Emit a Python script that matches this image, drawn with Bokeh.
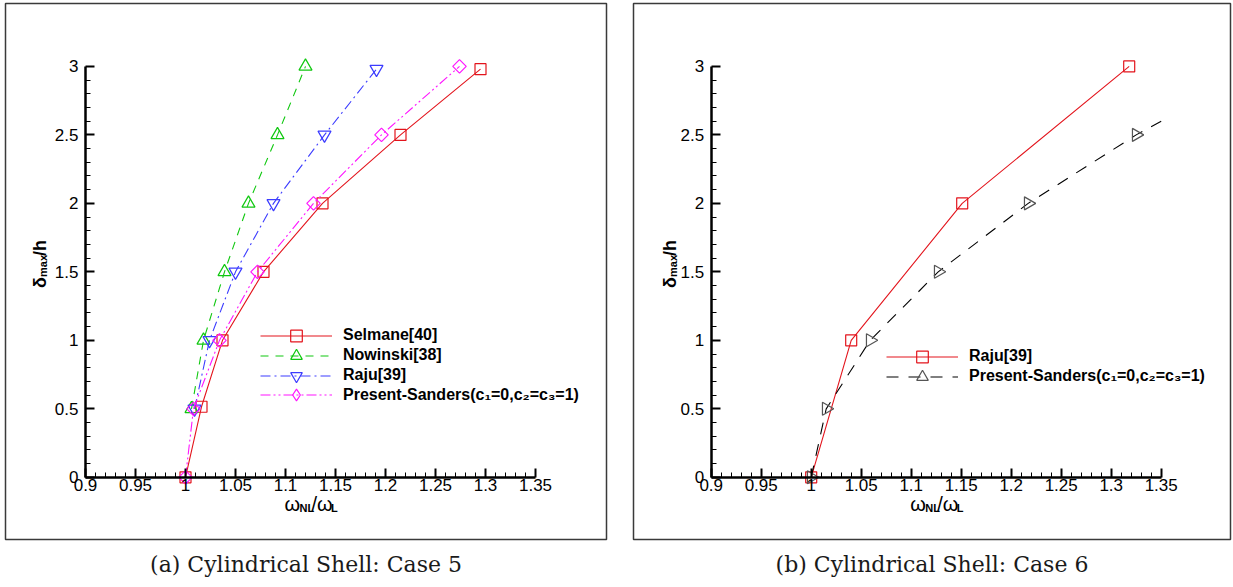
import numpy as np
from bokeh.plotting import figure
from bokeh.models import Range1d, FixedTicker, Label, Legend, LegendItem, Title
from bokeh.layouts import row
from bokeh.embed import file_html
from bokeh.resources import INLINE

# ---------------- data ----------------
x_tick_labels = ["0.9", "0.95", "1", "1.05", "1.1", "1.15", "1.2", "1.25", "1.3", "1.35"]
y_tick_labels = ["0", "0.5", "1", "1.5", "2", "2.5", "3"]

# (a) Cylindrical Shell: Case 5
selmane_x = [1.0, 1.016, 1.037, 1.078, 1.137, 1.215, 1.295]
selmane_y = [0.0, 0.515, 1.0, 1.5, 2.0, 2.5, 2.98]
nowinski_x = [1.006, 1.018, 1.039, 1.063, 1.092, 1.12]
nowinski_y = [0.5, 1.0, 1.5, 2.0, 2.5, 3.0]
raju5_x = [1.009, 1.024, 1.05, 1.088, 1.139, 1.191]
raju5_y = [0.5, 1.0, 1.5, 2.0, 2.5, 2.98]
sanders5_x = [1.0, 1.008, 1.034, 1.072, 1.128, 1.196, 1.274]
sanders5_y = [0.0, 0.5, 1.0, 1.5, 2.0, 2.5, 3.0]

# (b) Cylindrical Shell: Case 6
raju6_x = [1.0, 1.04, 1.151, 1.318]
raju6_y = [0.0, 1.0, 2.0, 3.0]
sanders6_x = [1.0, 1.015, 1.059, 1.127, 1.217, 1.325]
sanders6_y = [0.0, 0.5, 1.0, 1.5, 2.0, 2.5]
sanders6_edge_x = [1.35]   # where the dashed curve leaves the axis box
sanders6_edge_y = [2.6]

legend_a = ["Selmane[40]", "Nowinski[38]", "Raju[39]", "Present-Sanders(c₁=0,c₂=c₃=1)"]
legend_b = ["Raju[39]", "Present-Sanders(c₁=0,c₂=c₃=1)"]

# ---------------- styling / layout constants ----------------
X_PX_PER_UNIT = 1000.0
Y_PX_PER_UNIT = 137.23
Y0_PX = 477.7          # canvas y of delta = 0
FRAME_TOP, FRAME_BOTTOM = 3, 540
FONT = "Liberation Sans"

RED = "#e3141c"
GREEN = "#10c810"
BLUE = "#3c3cff"
MAGENTA = "#ff14ff"
GRAY = "#555555"

x_ticks = [float(s) for s in x_tick_labels]
y_ticks = [float(s) for s in y_tick_labels]
x_minor = [v for v in np.round(np.arange(0.9, 1.3501, 0.01), 3) if v not in x_ticks]
y_minor = [v for v in np.round(np.arange(0.0, 3.0001, 0.1), 2) if v not in y_ticks]


def build(width, canvas_left, frame_left, frame_right, axis_x_px, caption, ylab_x_px):
    border_left = frame_left - canvas_left
    border_right = canvas_left + width - frame_right
    x_start = 0.9 - (axis_x_px - frame_left) / X_PX_PER_UNIT
    x_end = 0.9 + (frame_right - axis_x_px) / X_PX_PER_UNIT
    y_end = (Y0_PX - FRAME_TOP) / Y_PX_PER_UNIT
    y_start = -(FRAME_BOTTOM - Y0_PX) / Y_PX_PER_UNIT

    p = figure(width=width, height=587, output_backend="svg", toolbar_location=None,
               x_range=Range1d(x_start, x_end), y_range=Range1d(y_start, y_end),
               min_border_left=border_left, min_border_right=border_right,
               min_border_top=FRAME_TOP, min_border_bottom=587 - FRAME_BOTTOM,
               background_fill_color="white", border_fill_color="white")
    p.grid.visible = False
    p.outline_line_color = "#3a3a3a"
    p.outline_line_width = 1.5

    xa = p.xaxis[0]
    xa.fixed_location = 0
    xa.bounds = (0.9, 1.35)
    xa.ticker = FixedTicker(ticks=x_ticks, minor_ticks=x_minor)
    xa.major_label_overrides = {t: s for t, s in zip(x_ticks, x_tick_labels)}
    ya = p.yaxis[0]
    ya.fixed_location = 0.9
    ya.bounds = (0, 3)
    ya.ticker = FixedTicker(ticks=y_ticks, minor_ticks=y_minor)
    ya.major_label_overrides = {t: s for t, s in zip(y_ticks, y_tick_labels)}
    for ax in (xa, ya):
        ax.axis_line_width = 2.5
        ax.axis_line_color = "black"
        ax.major_tick_in = 9
        ax.major_tick_out = 0
        ax.minor_tick_in = 5
        ax.minor_tick_out = 0
        ax.major_tick_line_width = 2
        ax.minor_tick_line_width = 1
        ax.major_tick_line_color = "black"
        ax.minor_tick_line_color = "black"
        ax.major_label_text_font = FONT
        ax.major_label_text_font_size = "17px"
        ax.major_label_text_color = "black"
    xa.major_label_standoff = 2
    ya.major_label_standoff = 7

    def dx(px):
        return 0.9 + (px - axis_x_px) / X_PX_PER_UNIT

    def dy(py):
        return (Y0_PX - py) / Y_PX_PER_UNIT

    # x-axis label  omega_NL / omega_L
    xl = axis_x_px - 85 + 284
    for txt, off, base, size, style in [("ω", 0, 504, "20px", "normal"),
                                        ("NL", 15, 508.5, "11px", "bold"),
                                        ("/ω", 27, 504, "20px", "normal"),
                                        ("L", 46.5, 508.5, "11px", "bold")]:
        p.add_layout(Label(x=dx(xl + off), y=dy(base), text=txt, text_font=FONT,
                           text_font_size=size, text_font_style=style, text_color="black",
                           text_align="left", text_baseline="alphabetic"))
    # y-axis label  delta_max / h  (rotated)
    for txt, yoff, xoff, size in [("δ", 288, 0, "18px"),
                                  ("max", 277, 3.5, "11px"),
                                  ("/h", 256, 0, "18px")]:
        p.add_layout(Label(x=dx(ylab_x_px + xoff), y=dy(yoff), text=txt, angle=np.pi / 2,
                           text_font=FONT, text_font_size=size, text_font_style="bold",
                           text_color="black", text_align="left", text_baseline="alphabetic"))

    p.add_layout(Title(text=caption, align="center", text_font="DejaVu Serif",
                       text_font_size="22px", text_font_style="normal",
                       text_color="#1a1a1a", standoff=21), "below")
    return p


def series(p, xs, ys, color, dash, marker, size, angle=0.0, line_color=None,
           lx=None, ly=None, legend_marker=None):
    lr = p.line(lx if lx is not None else xs, ly if ly is not None else ys,
                line_color=line_color or color, line_width=1.1, line_dash=dash)
    sr = p.scatter(xs, ys, marker=marker, size=size, angle=angle,
                   line_color=color, fill_color=None, line_width=1.2)
    if legend_marker is None:
        return [lr, sr]
    # legend-only swatch (a single undefined point, never drawn on the plot)
    dr = p.scatter(np.array([np.nan]), np.array([np.nan]), marker=legend_marker, size=size,
                   line_color=color, fill_color=None, line_width=1.2)
    return [lr, dr]


def add_legend_row(p, label, renderers, loc):
    leg = Legend(items=[LegendItem(label=label, renderers=renderers)], location=loc,
                 glyph_width=72, glyph_height=29, label_height=20, spacing=0,
                 padding=0, margin=0, border_line_color=None, background_fill_alpha=0,
                 label_text_font=FONT, label_text_font_size="16px",
                 label_text_font_style="bold", label_text_color="black",
                 label_standoff=11)
    p.add_layout(leg)


def row_loc(x_px, center_y):
    # single-row legend: bottom edge measured up from the frame bottom
    return (x_px, FRAME_BOTTOM - center_y - 14.5)


# ---------------- panel (a) ----------------
pa = build(616, 0, 5, 606, 85.0, "(a) Cylindrical Shell: Case 5", 39.0)
r1 = series(pa, selmane_x, selmane_y, RED, "solid", "square", 11)
r2 = series(pa, nowinski_x, nowinski_y, GREEN, "8 7", "triangle", 13)
r3 = series(pa, raju5_x, raju5_y, BLUE, "10 4 2 4", "inverted_triangle", 13)
r4 = series(pa, sanders5_x, sanders5_y, MAGENTA, "10 3 2 3 2 3", "square", 9.5,
            angle=np.pi / 4, legend_marker="diamond")
for lab, rr, cy in zip(legend_a, [r1, r2, r3, r4], [336, 356, 376, 395.5]):
    add_legend_row(pa, lab, rr, row_loc(255, cy))

# ---------------- panel (b) ----------------
pb = build(617, 616, 633, 1230, 710.7, "(b) Cylindrical Shell: Case 6", 669.3)
q1 = series(pb, raju6_x, raju6_y, RED, "solid", "square", 11)
q2 = series(pb, sanders6_x, sanders6_y, GRAY, "12 10", "triangle", 13, angle=-np.pi / 2,
            line_color="black", lx=sanders6_x + sanders6_edge_x, ly=sanders6_y + sanders6_edge_y)
for lab, rr, cy in zip(legend_b, [q1, q2], [357, 377]):
    add_legend_row(pb, lab, rr, row_loc(253, cy))

layout = row(pa, pb, spacing=0)
open("out.html", "w").write(file_html(layout, INLINE))
